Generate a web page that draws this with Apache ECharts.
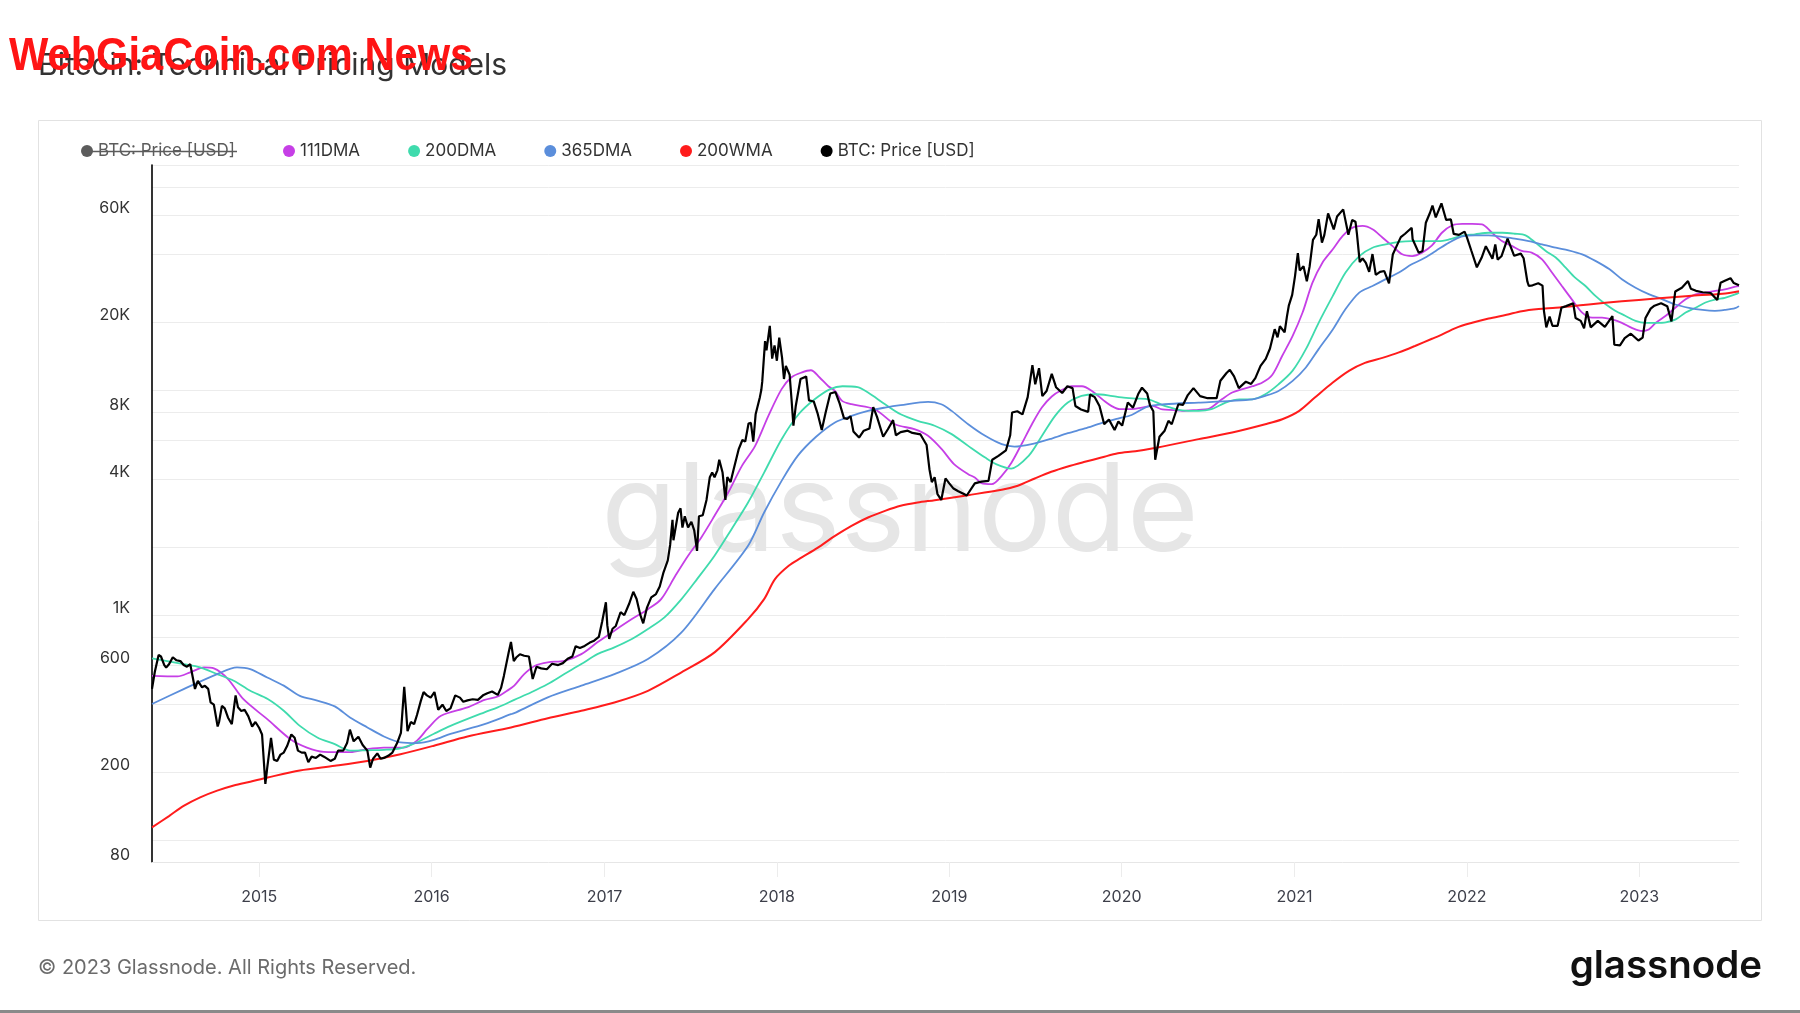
<!DOCTYPE html>
<html>
<head>
<meta charset="utf-8">
<script src="https://cdn.jsdelivr.net/npm/echarts@6.0.0/dist/echarts.min.js"></script>
<style>
  html, body { margin: 0; padding: 0; background: #ffffff; }
  #chart { width: 1800px; height: 1013px; }
</style>
</head>
<body>
<div id="chart"></div>
<script>
// ---------------- DATA ----------------
const yTickLabels = [80, 200, 600, 1000, 4000, 8000, 20000, 60000];
const yGridValues = [100, 200, 400, 600, 800, 1000, 2000, 4000, 6000, 8000, 10000, 20000, 40000, 60000, 80000, 100000];
const xTickYears = ['2015-01-01', '2016-01-01', '2017-01-01', '2018-01-01', '2019-01-01', '2020-01-01', '2021-01-01', '2022-01-01', '2023-01-01'];

const price = [
['2014-05-19',470],['2014-05-25',560],['2014-06-02',665],['2014-06-07',655],['2014-06-14',600],['2014-06-18',585],
['2014-06-24',605],['2014-07-02',650],['2014-07-10',630],['2014-07-18',625],['2014-07-25',600],['2014-08-01',590],
['2014-08-08',605],['2014-08-14',520],['2014-08-18',470],['2014-08-24',510],['2014-09-02',478],['2014-09-08',485],
['2014-09-15',470],['2014-09-20',410],['2014-09-27',400],['2014-10-05',320],['2014-10-08',335],['2014-10-14',395],
['2014-10-20',385],['2014-10-27',350],['2014-11-04',328],['2014-11-12',440],['2014-11-17',390],['2014-11-24',375],
['2014-12-01',380],['2014-12-09',355],['2014-12-17',320],['2014-12-24',335],['2015-01-01',315],['2015-01-07',295],
['2015-01-14',178],['2015-01-18',210],['2015-01-26',285],['2015-02-01',228],['2015-02-08',225],['2015-02-15',240],
['2015-02-22',245],['2015-03-01',262],['2015-03-10',295],['2015-03-17',285],['2015-03-24',250],['2015-04-01',245],
['2015-04-08',245],['2015-04-15',222],['2015-04-22',235],['2015-05-01',232],['2015-05-10',240],['2015-05-18',235],
['2015-06-01',225],['2015-06-10',230],['2015-06-17',250],['2015-06-28',250],['2015-07-06',270],['2015-07-12',310],
['2015-07-20',275],['2015-07-30',288],['2015-08-08',265],['2015-08-18',250],['2015-08-24',210],['2015-08-30',230],
['2015-09-08',243],['2015-09-15',230],['2015-09-22',232],['2015-10-01',237],['2015-10-10',245],['2015-10-20',270],
['2015-10-28',300],['2015-11-04',480],['2015-11-08',375],['2015-11-11',305],['2015-11-18',335],['2015-11-25',328],
['2015-12-01',360],['2015-12-09',415],['2015-12-15',455],['2015-12-22',440],['2015-12-30',430],['2016-01-07',455],
['2016-01-15',380],['2016-01-24',400],['2016-02-01',375],['2016-02-10',385],['2016-02-20',440],['2016-03-01',430],
['2016-03-08',412],['2016-03-17',418],['2016-03-28',423],['2016-04-08',420],['2016-04-20',442],['2016-04-28',450],
['2016-05-08',458],['2016-05-20',442],['2016-05-27',475],['2016-06-02',537],['2016-06-12',680],['2016-06-17',760],
['2016-06-23',625],['2016-06-28',648],['2016-07-06',670],['2016-07-15',660],['2016-07-25',655],['2016-08-02',520],
['2016-08-10',590],['2016-08-20',580],['2016-09-01',575],['2016-09-12',608],['2016-09-25',600],['2016-10-05',612],
['2016-10-15',640],['2016-10-25',655],['2016-11-01',728],['2016-11-10',715],['2016-11-20',730],['2016-12-01',755],
['2016-12-10',770],['2016-12-20',800],['2016-12-27',935],['2017-01-04',1140],['2017-01-07',900],['2017-01-11',785],
['2017-01-18',870],['2017-01-25',895],['2017-02-04',1030],['2017-02-12',1000],['2017-02-22',1120],['2017-03-03',1270],
['2017-03-10',1180],['2017-03-18',1000],['2017-03-24',920],['2017-04-01',1080],['2017-04-10',1200],['2017-04-20',1240],
['2017-04-28',1340],['2017-05-06',1550],['2017-05-15',1750],['2017-05-20',2050],['2017-05-25',2650],['2017-05-27',2150],
['2017-06-06',2850],['2017-06-11',2980],['2017-06-15',2450],['2017-06-20',2750],['2017-06-27',2450],['2017-07-04',2600],
['2017-07-10',2380],['2017-07-16',1930],['2017-07-20',2750],['2017-07-28',2780],['2017-08-05',3250],['2017-08-12',4100],
['2017-08-17',4300],['2017-08-22',4100],['2017-08-28',4400],['2017-09-01',4900],['2017-09-08',4300],['2017-09-14',3250],
['2017-09-18',4100],['2017-09-25',3900],['2017-10-01',4400],['2017-10-12',5450],['2017-10-20',6000],['2017-10-26',5900],
['2017-11-02',7100],['2017-11-07',7150],['2017-11-12',5900],['2017-11-17',7800],['2017-11-26',9300],['2017-11-29',10000],
['2017-12-01',10900],['2017-12-07',16500],['2017-12-10',15000],['2017-12-17',19300],['2017-12-22',13800],['2017-12-27',15800],
['2018-01-01',13500],['2018-01-06',17100],['2018-01-12',13900],['2018-01-16',11200],['2018-01-20',12800],['2018-01-28',11700],
['2018-02-01',9100],['2018-02-05',6950],['2018-02-10',8500],['2018-02-20',11200],['2018-03-04',11500],['2018-03-10',9000],
['2018-03-14',9100],['2018-03-20',8900],['2018-03-28',7900],['2018-04-06',6650],['2018-04-14',7900],['2018-04-24',9650],
['2018-05-05',9800],['2018-05-14',8700],['2018-05-23',7500],['2018-05-30',7450],['2018-06-06',7650],['2018-06-12',6550],
['2018-06-24',6150],['2018-07-04',6600],['2018-07-16',6750],['2018-07-24',8400],['2018-08-01',7600],['2018-08-14',6200],
['2018-08-24',6700],['2018-09-04',7350],['2018-09-10',6300],['2018-09-20',6500],['2018-10-05',6600],['2018-10-15',6450],
['2018-11-01',6350],['2018-11-14',5700],['2018-11-20',4450],['2018-11-25',3900],['2018-12-01',4100],['2018-12-07',3450],
['2018-12-15',3250],['2018-12-24',4050],['2019-01-01',3850],['2019-01-10',3650],['2019-01-20',3550],['2019-02-01',3450],
['2019-02-07',3400],['2019-02-24',3850],['2019-03-10',3920],['2019-03-25',3950],['2019-04-02',4900],['2019-04-15',5100],
['2019-05-01',5400],['2019-05-10',6300],['2019-05-14',7950],['2019-05-25',8050],['2019-06-05',7800],['2019-06-16',9300],
['2019-06-26',12900],['2019-07-02',10600],['2019-07-10',12500],['2019-07-17',9400],['2019-07-26',9900],['2019-08-06',11800],
['2019-08-15',10300],['2019-08-28',9700],['2019-09-08',10400],['2019-09-19',10200],['2019-09-25',8500],['2019-10-07',8200],
['2019-10-22',8000],['2019-10-26',9550],['2019-11-05',9300],['2019-11-15',8500],['2019-11-25',7050],['2019-12-05',7400],
['2019-12-17',6650],['2019-12-25',7250],['2020-01-02',6950],['2020-01-14',8800],['2020-01-25',8350],['2020-02-05',9600],
['2020-02-13',10250],['2020-02-24',9650],['2020-03-01',8550],['2020-03-08',8050],['2020-03-12',4900],['2020-03-16',5000],
['2020-03-21',6200],['2020-04-01',6600],['2020-04-09',7300],['2020-04-16',7050],['2020-04-30',8650],['2020-05-10',8600],
['2020-05-20',9500],['2020-06-01',10200],['2020-06-15',9400],['2020-07-01',9200],['2020-07-20',9200],['2020-07-28',11000],
['2020-08-10',11900],['2020-08-17',12300],['2020-08-26',11500],['2020-09-05',10200],['2020-09-20',10900],['2020-10-01',10650],
['2020-10-10',11300],['2020-10-21',12800],['2020-11-01',13750],['2020-11-10',15300],['2020-11-20',18650],['2020-11-26',17150],
['2020-12-01',19200],['2020-12-11',18050],['2020-12-16',21300],['2020-12-20',23800],['2020-12-27',26500],['2021-01-02',32100],
['2021-01-08',40600],['2021-01-12',34000],['2021-01-20',35500],['2021-01-27',30400],['2021-02-02',35500],['2021-02-09',46500],
['2021-02-16',49000],['2021-02-21',57500],['2021-02-28',45200],['2021-03-05',48800],['2021-03-13',61000],['2021-03-25',51700],
['2021-04-01',59000],['2021-04-14',63500],['2021-04-25',49000],['2021-05-03',57000],['2021-05-10',56000],['2021-05-13',49700],
['2021-05-19',37000],['2021-05-25',38500],['2021-06-01',36700],['2021-06-08',33500],['2021-06-15',40200],['2021-06-22',32500],
['2021-07-01',33500],['2021-07-10',33800],['2021-07-20',29800],['2021-07-28',40000],['2021-08-07',44500],['2021-08-14',47800],
['2021-08-23',49500],['2021-09-06',52600],['2021-09-08',46800],['2021-09-21',40700],['2021-09-29',41500],['2021-10-06',55400],
['2021-10-15',61500],['2021-10-20',66000],['2021-10-27',58500],['2021-11-08',67500],['2021-11-18',57000],['2021-11-28',57300],
['2021-12-04',49400],['2021-12-15',48900],['2021-12-27',50600],['2022-01-01',47700],['2022-01-10',41800],['2022-01-22',35100],
['2022-02-01',38700],['2022-02-10',43600],['2022-02-24',38300],['2022-03-02',44400],['2022-03-07',38000],['2022-03-15',39300],
['2022-03-28',47100],['2022-04-11',39500],['2022-04-25',40400],['2022-05-01',38500],['2022-05-09',30300],['2022-05-12',29000],
['2022-05-20',29200],['2022-06-01',29800],['2022-06-10',29100],['2022-06-13',22500],['2022-06-18',19000],['2022-06-25',21200],
['2022-07-01',19300],['2022-07-12',19300],['2022-07-20',23200],['2022-07-30',23600],['2022-08-14',24300],['2022-08-19',20900],
['2022-08-30',20300],['2022-09-06',18800],['2022-09-12',22400],['2022-09-20',19000],['2022-10-05',20300],['2022-10-20',19100],
['2022-11-05',21300],['2022-11-09',15900],['2022-11-21',15800],['2022-12-01',17000],['2022-12-14',17800],['2022-12-30',16600],
['2023-01-08',17100],['2023-01-14',20900],['2023-01-25',23000],['2023-02-02',23700],['2023-02-16',24300],['2023-03-01',23600],
['2023-03-10',20200],['2023-03-18',27400],['2023-04-01',28500],['2023-04-14',30500],['2023-04-20',28200],['2023-05-01',27600],
['2023-05-15',27200],['2023-06-01',27000],['2023-06-15',25100],['2023-06-22',30000],['2023-07-01',30600],['2023-07-13',31400],
['2023-07-20',29900],['2023-07-31',29200]
];

const dma111 = [
['2014-05-19',537],['2014-07-12',534],['2014-08-08',557],['2014-09-06',586],['2014-09-27',580],['2014-10-27',520],
['2014-11-28',424],['2015-01-18',345],['2015-03-08',281],['2015-04-12',258],['2015-05-18',247],['2015-07-13',246],
['2015-08-18',254],['2015-09-22',258],['2015-11-03',258],['2015-12-01',277],['2015-12-23',312],['2016-01-21',357],
['2016-03-17',389],['2016-04-22',420],['2016-05-20',435],['2016-06-08',460],['2016-06-24',486],['2016-07-15',547],
['2016-08-07',596],['2016-09-03',617],['2016-10-08',627],['2016-11-13',671],['2016-12-17',757],['2017-01-22',853],
['2017-02-28',960],['2017-04-03',1063],['2017-05-01',1178],['2017-05-31',1495],['2017-06-27',1836],['2017-07-25',2215],
['2017-08-22',2763],['2017-09-20',3507],['2017-10-19',4605],['2017-11-16',5650],['2017-12-14',7680],['2018-01-11',10100],
['2018-02-01',11400],['2018-02-22',11960],['2018-03-14',12250],['2018-04-01',11400],['2018-04-20',10400],['2018-05-04',9910],
['2018-05-19',8950],['2018-06-08',8650],['2018-07-27',8220],['2018-09-08',7050],['2018-10-19',6700],['2018-11-17',6260],
['2018-12-16',5460],['2019-01-11',4690],['2019-02-10',4230],['2019-02-24',4090],['2019-03-10',3860],['2019-04-01',3820],
['2019-04-22',4160],['2019-05-13',4770],['2019-06-03',5750],['2019-06-25',7050],['2019-07-16',8360],['2019-08-06',9360],
['2019-08-27',10000],['2019-09-17',10400],['2019-10-09',10400],['2019-10-30',9910],['2019-11-25',8950],['2019-12-10',8510],
['2019-12-28',8220],['2020-01-22',8220],['2020-02-13',8360],['2020-03-06',8510],['2020-03-27',8200],['2020-04-20',8150],
['2020-05-08',8080],['2020-06-12',8170],['2020-07-01',8220],['2020-07-31',9100],['2020-08-22',9750],['2020-09-13',10100],
['2020-10-04',10400],['2020-10-25',10800],['2020-11-15',11700],['2020-12-06',14200],['2020-12-28',17400],['2021-01-18',22100],
['2021-02-08',30000],['2021-03-01',36800],['2021-03-23',42200],['2021-04-13',48400],['2021-05-04',52700],['2021-05-25',53600],
['2021-06-15',51800],['2021-07-06',47600],['2021-07-27',43700],['2021-08-17',40100],['2021-09-07',39400],['2021-09-28',40800],
['2021-10-19',43900],['2021-11-09',50000],['2021-12-01',54000],['2021-12-22',54800],['2022-01-12',54800],['2022-02-02',54500],
['2022-02-23',50000],['2022-03-16',45900],['2022-04-06',43700],['2022-04-27',41500],['2022-05-18',40800],['2022-06-09',38100],
['2022-06-30',33300],['2022-07-21',29000],['2022-08-11',25300],['2022-09-02',22100],['2022-09-23',21000],['2022-10-14',21000],
['2022-11-04',20600],['2022-11-25',19900],['2022-12-16',18900],['2023-01-07',18300],['2023-01-21',18600],['2023-02-05',19900],
['2023-02-26',21400],['2023-03-18',23200],['2023-04-09',25300],['2023-04-30',26600],['2023-05-21',27100],['2023-06-11',27600],
['2023-07-01',28000],['2023-07-23',28800],['2023-07-31',29000]
];

const dma200 = [
['2014-05-19',643],['2014-07-25',606],['2014-08-29',586],['2014-10-04',547],['2014-11-08',511],['2014-12-13',461],
['2015-01-19',424],['2015-02-22',376],['2015-03-28',322],['2015-05-04',286],['2015-06-10',267],['2015-07-13',250],
['2015-08-18',251],['2015-09-22',252],['2015-10-27',256],['2015-12-01',272],['2016-01-06',297],['2016-02-10',322],
['2016-04-22',370],['2016-05-20',389],['2016-06-24',420],['2016-07-30',454],['2016-09-03',494],['2016-10-08',547],
['2016-11-13',606],['2016-12-17',671],['2017-01-22',719],['2017-02-28',783],['2017-04-03',867],['2017-05-08',977],
['2017-06-13',1178],['2017-07-16',1445],['2017-08-22',1836],['2017-09-27',2410],['2017-11-01',3165],['2017-12-05',4300],
['2018-01-11',6050],['2018-02-16',7810],['2018-03-22',9100],['2018-04-24',10100],['2018-05-20',10400],['2018-06-21',10300],
['2018-07-13',9750],['2018-08-18',8650],['2018-09-20',7810],['2018-10-26',7300],['2018-12-01',6940],['2019-01-06',6370],
['2019-02-10',5650],['2019-03-18',5010],['2019-04-10',4690],['2019-05-12',4480],['2019-06-18',5100],['2019-07-16',6250],
['2019-08-13',7680],['2019-09-09',8800],['2019-10-08',9420],['2019-11-06',9580],['2019-12-03',9480],['2020-01-01',9270],
['2020-01-30',9170],['2020-02-27',9100],['2020-03-26',8600],['2020-04-10',8400],['2020-05-08',8130],['2020-06-12',8080],
['2020-07-09',8220],['2020-08-08',8800],['2020-09-06',9100],['2020-10-03',9100],['2020-10-31',9580],['2020-11-28',10600],
['2020-12-28',12200],['2021-01-25',15200],['2021-02-21',19900],['2021-03-23',26200],['2021-04-19',33300],['2021-05-18',39400],
['2021-06-15',42900],['2021-07-13',44400],['2021-08-10',45500],['2021-09-06',45900],['2021-10-05',45900],['2021-11-02',45900],
['2021-11-24',46700],['2021-12-20',48400],['2022-01-18',49200],['2022-02-16',50000],['2022-03-17',50000],['2022-04-12',49500],
['2022-05-05',48700],['2022-05-26',45200],['2022-06-17',41500],['2022-07-08',38800],['2022-07-29',35000],['2022-08-18',31600],
['2022-09-09',29000],['2022-09-30',26200],['2022-10-21',24100],['2022-11-11',22500],['2022-12-02',21400],['2022-12-24',20300],
['2023-01-14',19900],['2023-02-05',19900],['2023-02-26',20000],['2023-03-19',20600],['2023-04-09',22100],['2023-04-30',23200],
['2023-05-21',24500],['2023-06-12',25300],['2023-07-01',25700],['2023-07-23',26600],['2023-07-31',27100]
];

const dma365 = [
['2014-05-19',403],['2014-07-25',469],['2014-10-04',547],['2014-11-15',586],['2014-12-13',576],['2015-01-18',528],
['2015-02-22',486],['2015-03-28',438],['2015-05-04',417],['2015-06-10',393],['2015-07-13',350],['2015-08-18',317],
['2015-09-22',289],['2015-10-27',272],['2015-12-01',270],['2016-01-06',279],['2016-02-10',297],['2016-04-22',328],
['2016-06-17',363],['2016-06-28',370],['2016-09-03',431],['2016-11-13',486],['2017-01-22',547],['2017-04-03',638],
['2017-06-13',838],['2017-08-22',1305],['2017-11-01',2033],['2017-12-05',2858],['2018-01-11',3950],['2018-02-14',5100],
['2018-03-25',6200],['2018-05-04',7178],['2018-06-08',7680],['2018-07-13',8080],['2018-08-18',8360],['2018-09-20',8570],
['2018-11-17',8860],['2018-12-15',8650],['2019-01-06',8080],['2019-02-10',7050],['2019-03-18',6260],['2019-04-22',5750],
['2019-05-19',5610],['2019-07-01',5800],['2019-08-06',6090],['2019-09-09',6430],['2019-10-15',6750],['2019-11-19',7130],
['2019-12-24',7470],['2020-01-22',7750],['2020-02-25',8450],['2020-04-01',8650],['2020-06-12',8800],['2020-08-22',8950],
['2020-10-04',9100],['2020-10-31',9420],['2020-11-28',9910],['2020-12-28',10980],['2021-01-25',12600],['2021-02-21',15200],
['2021-03-23',18600],['2021-04-19',22900],['2021-05-18',27100],['2021-06-15',29000],['2021-07-13',31100],['2021-08-10',33300],
['2021-09-06',36200],['2021-09-28',38100],['2021-10-27',41500],['2021-11-24',45200],['2021-12-20',48100],['2022-01-18',48700],
['2022-02-16',48700],['2022-03-17',47900],['2022-04-12',47100],['2022-05-12',45900],['2022-06-09',44400],['2022-07-08',42900],
['2022-08-04',41800],['2022-09-02',40100],['2022-09-30',37500],['2022-10-30',34400],['2022-11-25',31100],['2022-12-24',28500],
['2023-01-22',26600],['2023-02-19',25300],['2023-03-18',24000],['2023-04-16',23200],['2023-05-15',22700],['2023-06-10',22500],
['2023-07-01',22700],['2023-07-23',23100],['2023-07-31',23600]
];

const wma200 = [
['2014-05-19',114],['2014-06-24',128],['2014-07-25',142],['2014-08-29',155],['2014-10-04',166],['2014-11-08',175],
['2014-12-13',182],['2015-01-19',190],['2015-03-28',204],['2015-06-10',214],['2015-08-18',225],['2015-10-27',241],
['2016-01-06',263],['2016-03-17',289],['2016-06-17',317],['2016-09-03',348],['2016-11-13',376],['2017-01-22',409],
['2017-04-03',461],['2017-06-13',557],['2017-08-22',683],['2017-11-01',960],['2017-12-05',1178],['2017-12-28',1445],
['2018-01-26',1656],['2018-02-20',1790],['2018-03-28',1990],['2018-05-04',2250],['2018-06-08',2494],['2018-07-13',2716],
['2018-08-18',2905],['2018-09-20',3059],['2018-10-26',3164],['2018-12-01',3241],['2019-02-10',3413],['2019-04-22',3605],
['2019-05-26',3756],['2019-07-01',4048],['2019-08-05',4334],['2019-09-09',4576],['2019-10-15',4799],['2019-11-19',5014],
['2019-12-24',5240],['2020-01-30',5350],['2020-03-17',5560],['2020-06-12',6053],['2020-08-22',6480],['2020-10-31',7052],
['2020-12-06',7420],['2021-01-11',8086],['2021-02-13',9263],['2021-03-23',10800],['2021-04-27',12200],['2021-05-30',13200],
['2021-07-06',13900],['2021-08-10',14700],['2021-09-13',15700],['2021-10-19',16900],['2021-11-03',17400],['2021-12-09',18900],
['2022-01-12',19900],['2022-02-16',20800],['2022-03-26',21600],['2022-04-27',22400],['2022-06-02',22900],['2022-07-08',23200],
['2022-08-11',23600],['2022-09-16',24000],['2022-11-25',24800],['2023-02-05',25500],['2023-04-16',26200],['2023-06-26',26800],
['2023-07-31',27500]
];

const legendLabels = {
  price_old: 'BTC: Price [USD]',
  '111DMA': '111DMA',
  '200DMA': '200DMA',
  '365DMA': '365DMA',
  '200WMA': '200WMA',
  price: 'BTC: Price [USD]'
};

// ---------------- CHART ----------------
const chart = echarts.init(document.getElementById('chart'), null, { renderer: 'canvas' });
const FONT = 'Inter, "Noto Sans", sans-serif';

function fmtY(v) {
  if (v >= 1000) return (v / 1000) + 'K';
  return String(v);
}

const lineBase = { type: 'line', showSymbol: false, symbol: 'none', animation: false, emphasis: { disabled: true } };

chart.setOption({
  animation: false,
  backgroundColor: '#ffffff',
  textStyle: { fontFamily: FONT },
  grid: { left: 152, right: 61, top: 165, bottom: 151, containLabel: false },
  legend: {
    left: 81, top: 142.5, padding: 0,
    icon: 'circle', itemWidth: 12, itemHeight: 12, itemGap: 48,
    data: ['price_old', '111DMA', '200DMA', '365DMA', '200WMA', 'price'],
    selected: { price_old: false },
    inactiveColor: '#5c5c5c',
    formatter: function (name) { return legendLabels[name]; },
    textStyle: { fontSize: 17, color: '#333333', fontFamily: FONT }
  },
  xAxis: {
    type: 'time',
    min: '2014-05-19', max: '2023-07-31',
    splitLine: { show: false },
    axisLine: { show: true, lineStyle: { color: '#e6e6e6', width: 1 } },
    axisTick: { show: true, length: 15, customValues: xTickYears, lineStyle: { color: '#ececec', width: 1 } },
    axisLabel: { customValues: xTickYears, formatter: '{yyyy}', fontSize: 16, color: '#3d3f4a', margin: 27, fontFamily: FONT, hideOverlap: false }
  },
  yAxis: {
    type: 'log', logBase: 10, min: 80, max: 100000,
    axisLine: { show: true, lineStyle: { color: '#000000', width: 1.6 } },
    axisTick: { show: false, customValues: yGridValues },
    splitLine: { show: true, lineStyle: { color: '#ececec', width: 1 } },
    axisLabel: {
      customValues: yTickLabels,
      formatter: function (v) { return fmtY(Math.round(v)); },
      fontSize: 16, color: '#333333', margin: 22, fontFamily: FONT,
      verticalAlign: 'bottom', lineHeight: 14
    }
  },
  graphic: [
    { type: 'rect', z: -10, silent: true, shape: { x: 38.5, y: 120.5, width: 1723, height: 800 },
      style: { fill: 'none', stroke: '#e2e2e2', lineWidth: 1 } },
    { type: 'text', z: 1, silent: true, x: 900, y: 514,
      style: { text: 'glassnode', fill: '#e6e6e6', font: '400 123px Inter, "Noto Sans", sans-serif', align: 'center', verticalAlign: 'middle' } },
    { type: 'text', z: 10, silent: true, x: 38, y: 66,
      style: { text: 'Bitcoin: Technical Pricing Models', fill: '#333333', font: '400 30px Inter, "Noto Sans", sans-serif', align: 'left', verticalAlign: 'middle' } },
    { type: 'text', z: 20, silent: true, x: 9, y: 57.5, scaleX: 0.905,
      style: { text: 'WebGiaCoin.com News', fill: '#ff1414', font: 'bold 46px "Liberation Sans", Arial, sans-serif', align: 'left', verticalAlign: 'middle' } },
    { type: 'line', z: 20, silent: true, shape: { x1: 82, y1: 151.5, x2: 237, y2: 151.5 },
      style: { stroke: '#5c5c5c', lineWidth: 1.3 } },
    { type: 'text', z: 10, silent: true, x: 38, y: 968,
      style: { text: '© 2023 Glassnode. All Rights Reserved.', fill: '#6b6b6b', font: '400 20px Inter, "Noto Sans", sans-serif', align: 'left', verticalAlign: 'middle' } },
    { type: 'text', z: 10, silent: true, x: 1762, y: 966,
      style: { text: 'glassnode', fill: '#111111', font: '600 38.5px Inter, "Noto Sans", sans-serif', align: 'right', verticalAlign: 'middle' } },
    { type: 'rect', z: 10, silent: true, shape: { x: 0, y: 1010, width: 1800, height: 3 },
      style: { fill: '#8a8a8a' } }
  ],
  series: [
    Object.assign({}, lineBase, { name: 'price_old', data: price, color: '#5c5c5c', lineStyle: { color: '#5c5c5c', width: 2 } }),
    Object.assign({}, lineBase, { name: '111DMA', data: dma111, smooth: 0.3, color: '#c63fe6', lineStyle: { color: '#c63fe6', width: 1.8 } }),
    Object.assign({}, lineBase, { name: '200DMA', data: dma200, smooth: 0.3, color: '#3fdbad', lineStyle: { color: '#3fdbad', width: 1.8 } }),
    Object.assign({}, lineBase, { name: '365DMA', data: dma365, smooth: 0.3, color: '#5b8edb', lineStyle: { color: '#5b8edb', width: 1.8 } }),
    Object.assign({}, lineBase, { name: '200WMA', data: wma200, smooth: 0.3, color: '#ff1c1c', lineStyle: { color: '#ff1c1c', width: 2 } }),
    Object.assign({}, lineBase, { name: 'price', data: price, color: '#000000', lineStyle: { color: '#000000', width: 2.2 } })
  ]
});
</script>
</body>
</html>
